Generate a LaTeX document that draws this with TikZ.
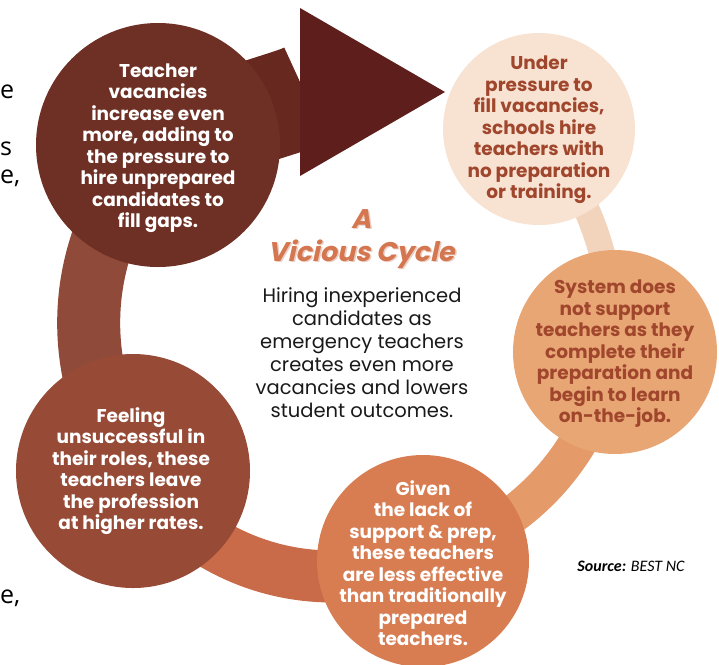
\documentclass[tikz,border=0pt]{standalone}
\usepackage{fontspec}
\setmainfont{Poppins}
\newfontfamily\slantfont{Poppins}[FakeSlant=0.22]
\newfontfamily\sourcefont{Carlito}
\newfontfamily\pagefont{Open Sans}
\usetikzlibrary{arrows.meta, backgrounds}
\definecolor{vacancyBrown}{HTML}{6E3024}
\definecolor{pressurePeach}{HTML}{F8E2D2}
\definecolor{supportTan}{HTML}{E8A674}
\definecolor{effectCoral}{HTML}{D87C52}
\definecolor{leaveRust}{HTML}{974A36}
\definecolor{stageInk}{HTML}{A0462D}
\definecolor{bandPeach}{HTML}{F2D4BC}
\definecolor{bandTan}{HTML}{E49B69}
\definecolor{bandCoral}{HTML}{C96A48}
\definecolor{bandRust}{HTML}{8F4A39}
\definecolor{shaftDark}{HTML}{66281F}
\definecolor{headDark}{HTML}{5E1E1B}
\definecolor{titleOrange}{HTML}{D4764F}
\definecolor{titleShade}{HTML}{EBCFC4}
\tikzstyle{stage} = [circle, inner sep=0pt]
\tikzstyle{stagetext} = [align=center, inner sep=0pt, font=\bfseries\fontsize{18.5}{21.5}\selectfont]
\tikzstyle{band} = [line cap=butt]
\tikzstyle{bigarrow} = [line width=104pt, color=shaftDark, -{Triangle[length=145pt, width=168pt, line width=0pt, color=headDark]}]
\tikzstyle{fragment} = [anchor=base west, inner sep=0pt, font=\pagefont\fontsize{25}{28}\selectfont]

\begin{document}
\begin{tikzpicture}[x=1pt, y=1pt]
\useasboundingbox (0,0) rectangle (719,-664);

% Stages
\node (teacherVacancies) [stage, fill=vacancyBrown, minimum size=244pt] at (158,-145) {};
\node (underPressure) [stage, fill=pressurePeach, minimum size=192pt] at (539,-129) {};
\node (noSupport) [stage, fill=supportTan, minimum size=204pt] at (615,-352) {};
\node (lessEffective) [stage, fill=effectCoral, minimum size=212pt] at (423,-561) {};
\node (leaveJob) [stage, fill=leaveRust, minimum size=234pt] at (133,-471) {};
\coordinate (arrowTip) at (445,-92);

% Stage texts
\node (vacancyText) [stagetext, text=white, yshift=-3pt] at (teacherVacancies) {Teacher\\vacancies\\increase even\\more, adding to\\the pressure to\\hire unprepared\\candidates to\\fill gaps.};
\node (pressureText) [stagetext, text=stageInk, yshift=-1pt] at (underPressure) {Under\\pressure to\\fill vacancies,\\schools hire\\teachers with\\no preparation\\or training.};
\node (supportText) [stagetext, text=stageInk, yshift=-2pt] at (noSupport) {System does\\not support\\teachers as they\\complete their\\preparation and\\begin to learn\\on-the-job.};
\node (effectText) [stagetext, text=white, yshift=-2pt] at (lessEffective) {Given\\the lack of\\support \& prep,\\these teachers\\are less effective\\than traditionally\\prepared\\teachers.};
\node (leaveText) [stagetext, text=white, xshift=-2pt] at (leaveJob) {Feeling\\unsuccessful in\\their roles, these\\teachers leave\\the profession\\at higher rates.};

% Title and note
\node (titleShadow) [align=center, text=titleShade, font=\slantfont\bfseries\fontsize{27}{33}\selectfont] at (362.5,-240.5) {A\\Vicious Cycle};
\node (title) [align=center, text=titleOrange, font=\slantfont\bfseries\fontsize{27}{33}\selectfont] at (361,-239) {A\\Vicious Cycle};
\node (note) [align=center, font=\fontsize{19.5}{23}\selectfont, text=black!90] at (362,-353) {Hiring inexperienced\\candidates as\\emergency teachers\\creates even more\\vacancies and lowers\\student outcomes.};
\node (source) [font=\sourcefont\itshape\fontsize{16}{18}\selectfont] at (631,-566) {\textbf{Source:} BEST NC};

% Text fragments at the left edge
\node (cutA) [fragment] at (0,-98) {e};
\node (cutB) [fragment] at (0,-155) {s};
\node (cutC) [fragment] at (0,-183) {e,};
\node (cutD) [fragment] at (0,-603) {e,};

% Cycle band
\begin{pgfonlayer}{background}
    \draw [band, line width=26pt, color=bandPeach] (underPressure.center) to[bend left=17] (noSupport.center);
    \draw [band, line width=38pt, color=bandTan] (noSupport.center) to[bend left=28] (lessEffective.center);
    \draw [band, line width=52pt, color=bandCoral] (lessEffective.center) to[bend left=36] (leaveJob.center);
    \draw [band, line width=63pt, color=bandRust] (leaveJob.center) to[bend left=36] (teacherVacancies.center);
    \draw [bigarrow] (teacherVacancies.center) to[out=20, in=180] (arrowTip);
\end{pgfonlayer}

\end{tikzpicture}
\end{document}
